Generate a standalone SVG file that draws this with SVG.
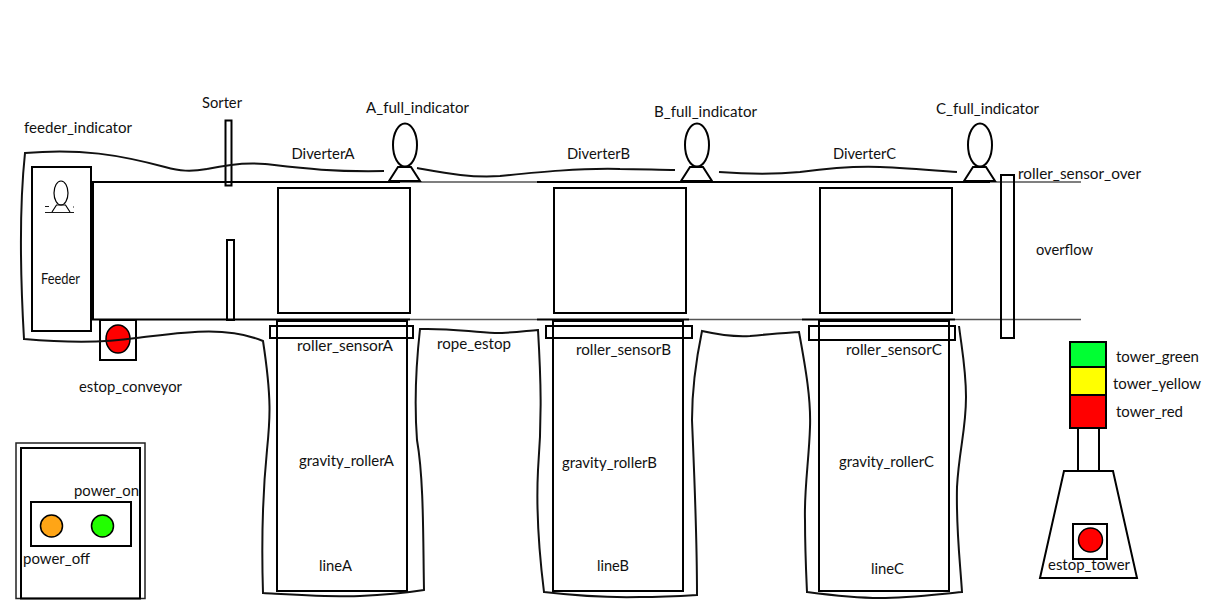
<svg xmlns="http://www.w3.org/2000/svg" width="1211" height="600" viewBox="0 0 1211 600">
<style>
.b{fill:none;stroke:#000;stroke-width:2}
.l{stroke:#000;stroke-width:2;fill:none}
.g{stroke:#555;stroke-width:1.6;fill:none}
.r{fill:none;stroke:#111;stroke-width:2;stroke-linejoin:miter}
text{font-family:"Lato","Liberation Sans",sans-serif;font-size:14.5px;fill:#111}
</style>
<defs>
<g id="ind"><ellipse cx="0" cy="-36" rx="12" ry="21.5" class="b"/><path d="M-16 0L-7 -14H6L15 0Z" class="b"/></g>
</defs>
<rect width="1211" height="600" fill="#fff"/>
<g id="conveyor">
<path class="l" d="M93 181V320"/>
<path class="l" d="M92 182H400M537 182H990M92 319.500H410M537 319.500H689M802 319.500H955"/>
<path class="g" d="M400 182H537M990 182H1081M410 319.500H537M689 319.500H802M955 319.500H1081"/>
</g>
<g id="feeder"><rect class="b" x="32" y="167" width="59" height="164"/>
<text x="41" y="284" textLength="39" lengthAdjust="spacingAndGlyphs">Feeder</text></g>
<g id="feeder_indicator">
<ellipse cx="61" cy="193" rx="7" ry="12" fill="none" stroke="#000" stroke-width="1.2"/>
<path d="M52 212L56.500 205H65.500L70 212" fill="none" stroke="#000" stroke-width="1.2"/>
<path d="M45 212.500H74M45 206.500H49M73 207H74" fill="none" stroke="#000" stroke-width="0.9"/>
<text x="24" y="133" textLength="108" lengthAdjust="spacingAndGlyphs">feeder_indicator</text></g>
<g id="sorter"><rect class="b" x="225.500" y="120.500" width="6" height="65"/><rect class="b" x="227" y="240" width="7" height="80"/>
<text x="202" y="108" textLength="40" lengthAdjust="spacingAndGlyphs">Sorter</text></g>
<g id="diverterA"><rect class="b" x="278" y="188" width="132" height="125"/><text x="291.500" y="159" textLength="63" lengthAdjust="spacingAndGlyphs">DiverterA</text></g>
<g id="diverterB"><rect class="b" x="554" y="188" width="132" height="125"/><text x="567" y="159" textLength="63" lengthAdjust="spacingAndGlyphs">DiverterB</text></g>
<g id="diverterC"><rect class="b" x="820" y="188" width="132" height="125"/><text x="833" y="159" textLength="63" lengthAdjust="spacingAndGlyphs">DiverterC</text></g>
<g id="A_full_indicator"><use href="#ind" x="405" y="181"/><text x="366" y="113" textLength="103" lengthAdjust="spacingAndGlyphs">A_full_indicator</text></g>
<g id="B_full_indicator"><use href="#ind" x="697" y="181"/><text x="654" y="117" textLength="103" lengthAdjust="spacingAndGlyphs">B_full_indicator</text></g>
<g id="C_full_indicator"><use href="#ind" x="980" y="181"/><text x="936" y="114" textLength="103" lengthAdjust="spacingAndGlyphs">C_full_indicator</text></g>
<g id="lineA"><rect class="b" x="277" y="321" width="130" height="270"/>
<rect class="b" x="270" y="326" width="143" height="12"/>
<text x="297" y="351" textLength="96" lengthAdjust="spacingAndGlyphs">roller_sensorA</text>
<text x="299" y="466" textLength="95" lengthAdjust="spacingAndGlyphs">gravity_rollerA</text>
<text x="319" y="571" textLength="33" lengthAdjust="spacingAndGlyphs">lineA</text></g>
<g id="lineB"><rect class="b" x="553" y="321" width="130" height="270"/>
<rect class="b" x="546" y="326" width="146" height="12"/>
<text x="576" y="355" textLength="95" lengthAdjust="spacingAndGlyphs">roller_sensorB</text>
<text x="562" y="468" textLength="95" lengthAdjust="spacingAndGlyphs">gravity_rollerB</text>
<text x="597" y="571" textLength="32" lengthAdjust="spacingAndGlyphs">lineB</text></g>
<g id="lineC"><rect class="b" x="819" y="321" width="130" height="270"/>
<rect class="b" x="809" y="326" width="146" height="14"/>
<text x="846" y="355" textLength="96" lengthAdjust="spacingAndGlyphs">roller_sensorC</text>
<text x="839" y="467" textLength="95" lengthAdjust="spacingAndGlyphs">gravity_rollerC</text>
<text x="871" y="574" textLength="33" lengthAdjust="spacingAndGlyphs">lineC</text></g>
<g id="roller_sensor_over"><rect class="b" x="1001" y="175" width="13" height="163"/>
<text x="1018" y="179" textLength="123" lengthAdjust="spacingAndGlyphs">roller_sensor_over</text>
<text x="1036" y="255" textLength="57" lengthAdjust="spacingAndGlyphs">overflow</text></g>
<g id="estop_conveyor"><rect class="b" x="100" y="320" width="36" height="40"/>
<ellipse cx="118" cy="339" rx="12" ry="14" fill="#f00" stroke="#000" stroke-width="1.5"/>
<text x="79" y="392" textLength="103" lengthAdjust="spacingAndGlyphs">estop_conveyor</text></g>
<g id="power_panel"><rect x="16" y="443" width="129" height="155.500" fill="none" stroke="#222" stroke-width="1.5"/>
<rect class="b" x="21" y="448" width="119" height="150.500"/>
<rect class="b" x="31" y="502" width="100" height="44"/>
<circle cx="51.500" cy="526" r="11" fill="#ffa516" stroke="#000" stroke-width="1.5"/>
<circle cx="102.500" cy="526" r="11" fill="#22ff00" stroke="#000" stroke-width="1.5"/>
<text x="74" y="496" textLength="65" lengthAdjust="spacingAndGlyphs">power_on</text>
<text x="23" y="564" textLength="67" lengthAdjust="spacingAndGlyphs">power_off</text></g>
<g id="tower">
<rect x="1070" y="342" width="36" height="25" fill="#0f3" stroke="#000" stroke-width="2"/>
<rect x="1070" y="367" width="36" height="28" fill="#ff0" stroke="#000" stroke-width="2"/>
<rect x="1070" y="395" width="36" height="33" fill="#f00" stroke="#000" stroke-width="2"/>
<path class="l" d="M1078 428V471M1099 428V471"/>
<path class="b" d="M1064 471H1113L1137 578H1040Z"/>
<rect class="b" x="1073" y="524" width="34" height="35"/>
<circle cx="1090.500" cy="540" r="12" fill="#f00" stroke="#000" stroke-width="1.5"/>
<text x="1116" y="362" textLength="83" lengthAdjust="spacingAndGlyphs">tower_green</text>
<text x="1113" y="389" textLength="88" lengthAdjust="spacingAndGlyphs">tower_yellow</text>
<text x="1116" y="417" textLength="67" lengthAdjust="spacingAndGlyphs">tower_red</text>
<text x="1048" y="570" textLength="82" lengthAdjust="spacingAndGlyphs">estop_tower</text></g>
<g id="connectors">
<path id="rope" class="r" d="M207 169C190 172 180 171 165 167C120 155 80 148 25 153C19 210 20 270 24 339C70 343 110 342 136 338C180 333 225 325 263 341C272 400 270 420 267 450C263 490 261 530 263 593C300 595 330 597 360 596C385 595 405 593 424 590C423 540 424 480 417 440C414 400 416 365 420 329C450 328 470 332 495 333C512 333 525 331 538 330C541 380 542 420 538 470C536 510 540 560 544 592C570 595 600 598 640 597C660 597 680 596 697 595C697 530 694 470 692 420C692 390 696 360 702 331C720 335 735 337 750 336C770 334 785 333 799 332C806 370 811 400 810 427C809 460 804 490 805 520C805 550 806 570 807 592C830 595 855 598 880 598C905 598 930 595 962 592C960 560 956 530 957 487C959 450 966 430 966 397C966 370 962 350 959 326"/>
<path class="r" d="M207 169C225 165 245 162 265 164C300 168 330 172 384 171"/>
<path class="r" d="M417 168C445 173 470 178 500 176C540 172 580 168 620 169C640 169 660 170 675 170"/>
<path class="r" d="M719 172C745 174 770 175 800 172C830 168 855 166 880 167C905 168 930 170 957 172"/>
<text x="437" y="349" textLength="74" lengthAdjust="spacingAndGlyphs">rope_estop</text>
</g>
</svg>
